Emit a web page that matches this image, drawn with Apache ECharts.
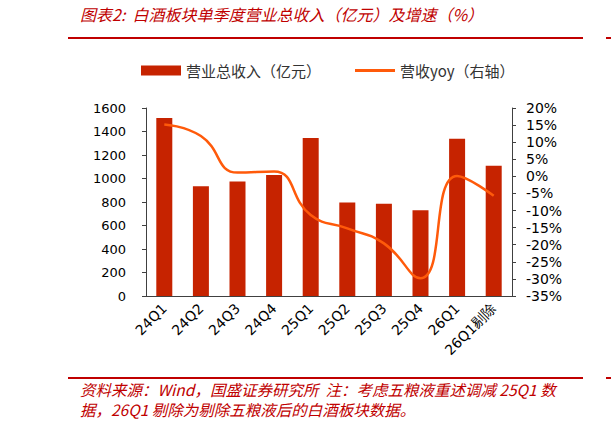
<!DOCTYPE html>
<html>
<head>
<meta charset="utf-8">
<script src="https://cdn.jsdelivr.net/npm/echarts@6/dist/echarts.min.js"></script>
<style>
html, body { margin: 0; padding: 0; background: #fff; }
#chart { width: 611px; height: 431px; }
</style>
</head>
<body>
<div id="chart"></div>
<script>
/* 白酒板块单季度营业总收入及增速 */

var quarters = ["24Q1", "24Q2", "24Q3", "24Q4", "25Q1", "25Q2", "25Q3", "25Q4", "26Q1", "26Q1剔除"];
var revenue = [1515, 935, 975, 1030, 1345, 795, 785, 730, 1338, 1108];
var yoy = [15.2, 11.8, 1.1, 1.4, -11.3, -15.2, -19.6, -29.8, 0.1, -5.7];

var titleText = "图表2:  白酒板块单季度营业总收入（亿元）及增速（%）";
var noteLine1 = "资料来源：Wind，国盛证券研究所  注：考虑五粮液重述调减 25Q1 数";
var noteLine2 = "据，26Q1 剔除为剔除五粮液后的白酒板块数据。";

var red = "#c00000";
var cjk = "'Noto Sans CJK SC', sans-serif";
var latin = "'DejaVu Sans', sans-serif";

function redRule(y) {
	return [
		{ type: 'line', shape: { x1: 68, y1: y, x2: 583, y2: y }, style: { stroke: red, lineWidth: 2 } },
		{ type: 'line', shape: { x1: 606, y1: y, x2: 611, y2: y }, style: { stroke: red, lineWidth: 2 } }
	];
}

function redText(str, y, size) {
	return {
		type: 'text', left: 80, top: y,
		style: { text: str, fill: red, font: "italic " + size + "px " + cjk }
	};
}

var myChart = echarts.init(document.getElementById('chart'), null, { renderer: 'svg' });

option = {
	backgroundColor: '#fff',
	animation: false,
	graphic: [redText(titleText, 6, 16)]
		.concat(redRule(38))
		.concat(redRule(378))
		.concat([redText(noteLine1, 381, 15.5), redText(noteLine2, 401, 15.5)]),
	legend: {
		top: 58,
		left: 136,
		itemWidth: 40,
		itemHeight: 10,
		itemGap: 34,
		symbolKeepAspect: true,
		textStyle: { fontSize: 15, color: '#333', fontFamily: cjk },
		data: [
			{ name: "营业总收入（亿元）", icon: 'rect' },
			{ name: "营收yoy（右轴）", icon: 'path://M0,0h40v3h-40z' }
		]
	},
	grid: { left: 146, right: 99, top: 108, bottom: 135 },
	xAxis: {
		type: 'category',
		data: quarters,
		axisLine: { lineStyle: { color: '#404040' } },
		axisTick: { lineStyle: { color: '#404040' }, length: 5 },
		axisLabel: {
			rotate: 45, margin: 10, interval: 0,
			color: '#000', fontSize: 14, fontFamily: latin
		}
	},
	yAxis: [
		{
			type: 'value', min: 0, max: 1600, interval: 200,
			splitLine: { show: false },
			axisLine: { show: true, lineStyle: { color: '#404040' } },
			axisTick: { show: true, length: 4, lineStyle: { color: '#404040' } },
			axisLabel: {
				color: '#000', fontSize: 13, margin: 20, fontFamily: latin,
				formatter: function (v) { return String(v); }
			}
		},
		{
			type: 'value', min: -35, max: 20, interval: 5,
			splitLine: { show: false },
			axisLine: { show: true, lineStyle: { color: '#404040' } },
			axisTick: { show: true, length: 4, lineStyle: { color: '#404040' } },
			axisLabel: { color: '#000', fontSize: 14, margin: 14, formatter: '{value}%', fontFamily: latin }
		}
	],
	series: [
		{
			name: "营业总收入（亿元）",
			type: 'bar',
			barWidth: 16,
			data: revenue,
			itemStyle: { color: '#c62300' }
		},
		{
			name: "营收yoy（右轴）",
			type: 'line',
			yAxisIndex: 1,
			smooth: true,
			symbol: 'none',
			data: yoy,
			lineStyle: { color: '#ff5a0a', width: 2.5 },
			itemStyle: { color: '#ff5a0a' }
		}
	]
};

myChart.setOption(option);
</script>
</body>
</html>
